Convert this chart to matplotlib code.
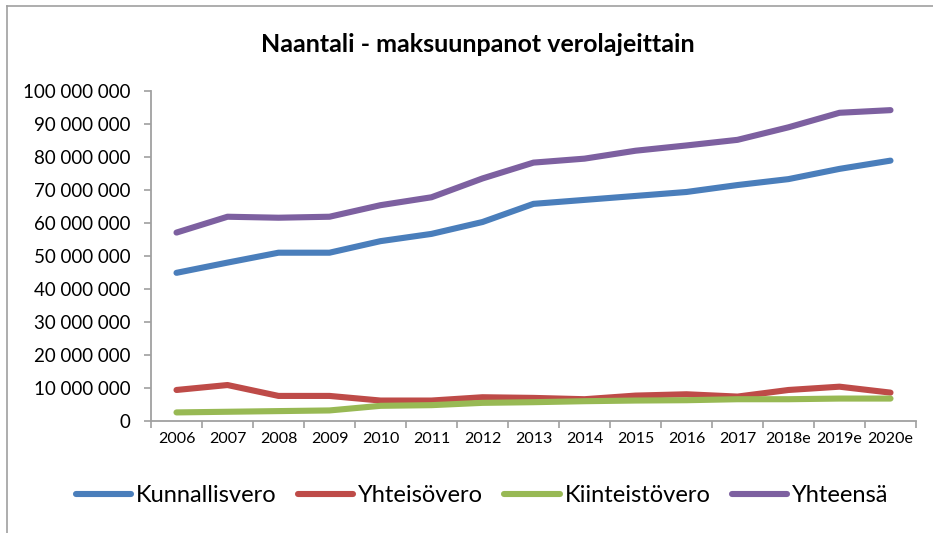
import matplotlib
matplotlib.use("Agg")
import matplotlib.pyplot as plt
from matplotlib.lines import Line2D
from matplotlib.ticker import FuncFormatter, FixedLocator

plt.rcParams['font.family'] = ['Lato', 'DejaVu Sans']

years = ["2006", "2007", "2008", "2009", "2010", "2011", "2012", "2013",
         "2014", "2015", "2016", "2017", "2018e", "2019e", "2020e"]
kunnallisvero = [44.9, 48.0, 51.0, 51.0, 54.5, 56.7, 60.3, 65.8,
                 67.0, 68.2, 69.4, 71.5, 73.3, 76.4, 78.9]
yhteisovero = [9.4, 10.9, 7.6, 7.6, 6.2, 6.2, 7.2, 7.0,
               6.6, 7.7, 8.1, 7.4, 9.4, 10.4, 8.6]
kiinteistovero = [2.6, 2.8, 3.0, 3.2, 4.6, 4.8, 5.5, 5.7,
                  6.0, 6.2, 6.3, 6.6, 6.6, 6.8, 6.8]
yhteensa = [57.1, 61.9, 61.6, 61.9, 65.4, 67.8, 73.5, 78.3,
            79.5, 81.9, 83.5, 85.2, 89.0, 93.4, 94.2]

series = [
    ("Kunnallisvero", kunnallisvero, "#4A7EBB"),
    ("Yhteisövero", yhteisovero, "#BE4B48"),
    ("Kiinteistövero", kiinteistovero, "#98B954"),
    ("Yhteensä", yhteensa, "#7D60A0"),
]

fig = plt.figure(figsize=(9.33, 5.33), dpi=100)
ax = fig.add_axes([151/933, 1-421/533, (916-151)/933, (421-91)/533])

x = list(range(len(years)))
handles = []
for name, vals, col in series:
    ax.plot(x, [v * 1e6 for v in vals], color=col, lw=4.4,
            solid_capstyle='round', solid_joinstyle='round')
    handles.append(Line2D([0], [0], color=col, lw=4.4, solid_capstyle='round', label=name))

ax.set_xlim(-0.5, len(years) - 0.5)
ax.set_ylim(0, 100e6)
ax.set_yticks([i * 10e6 for i in range(11)])
ax.yaxis.set_major_formatter(FuncFormatter(lambda v, p: f"{int(round(v)):,}".replace(",", " ")))

ax.xaxis.set_major_locator(FixedLocator([i - 0.5 for i in range(len(years) + 1)]))
ax.xaxis.set_minor_locator(FixedLocator(x))
ax.set_xticklabels([], minor=False)
ax.set_xticklabels(years, minor=True)
ax.tick_params(axis='x', which='minor', length=0, labelsize=11.5, pad=8, colors='#000000')
ax.tick_params(axis='x', which='major', length=5, width=1.2, color='#A0A0A0')
ax.tick_params(axis='y', length=5, width=1.2, color='#A0A0A0', labelsize=13.5, pad=9.5)

for s in ['top', 'right']:
    ax.spines[s].set_visible(False)
for s in ['left', 'bottom']:
    ax.spines[s].set_color('#A0A0A0')
    ax.spines[s].set_linewidth(1.3)

fig.text(478/933, 1-45/533, "Naantali - maksuunpanot verolajeittain",
         ha='center', va='center', fontsize=18, fontweight='bold')

fig.legend(handles=handles, loc='center', bbox_to_anchor=(482/933, 1-496/533),
           ncol=4, frameon=False, fontsize=17, handlelength=2.35,
           handletextpad=0.2, columnspacing=0.9)

# chart frame (left and top edges)
fig.add_artist(Line2D([7/933, 7/933], [0, 1-6/533], transform=fig.transFigure,
                      color='#A0A0A0', lw=1.2))
fig.add_artist(Line2D([7/933, 1], [1-6/533, 1-6/533], transform=fig.transFigure,
                      color='#A0A0A0', lw=1.2))

fig.savefig("out.png", dpi=100)
